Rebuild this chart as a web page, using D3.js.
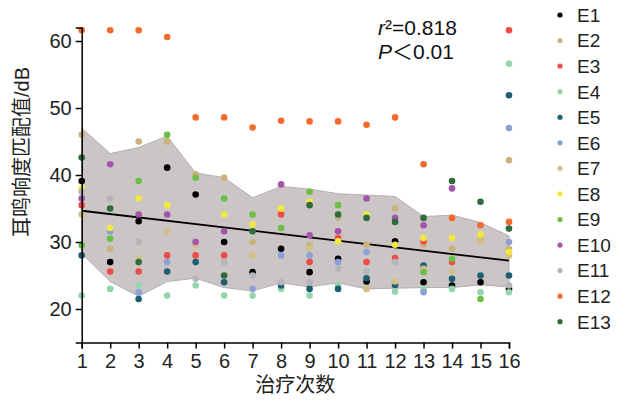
<!DOCTYPE html>
<html>
<head>
<meta charset="utf-8">
<script src="https://cdn.jsdelivr.net/npm/d3@7"></script>
<style>
  body { margin: 0; background: #fff; }
  svg { display: block; font-family: "Liberation Sans", Arial, "Noto Sans CJK SC", sans-serif; }
  .axis path, .axis line { stroke: #000; stroke-width: 1.5; }
  .axis text { font-size: 20px; fill: #222; }
</style>
</head>
<body>
<div id="chart"></div>
<script>
// sessions on the x axis
const sessions = d3.range(1, 17);
const yTicks = [20, 30, 40, 50, 60];

const seriesNames = ['E1','E2','E3','E4','E5','E6','E7','E8','E9','E10','E11','E12','E13'];
const seriesColors = ['#000000','#c9b27c','#ef4b47','#95d5ae','#1d5e74','#8c9fd6','#d3bf88',
  '#f3e83c','#6bbf45','#a653ad','#b5b5bb','#f36a2d','#2f6b3b'];

// one value per session (null = not visible, array = two readings)
const E1  = [39.1, 27.0, 33.1, 41.1, 37.1, 30.0, 25.5, 29.0, 25.5, 27.5, 24.1, 30.1, 24.0, 23.5, 24.0, 23.0];
const E2  = [46.0, 29.0, 45.0, 45.0, 40.1, 39.6, 30.0, 34.6, 29.5, 33.6, 29.6, 35.0, 29.6, 29.0, 30.6, [42.2, 29.0]];
const E3  = [35.5, 25.6, 25.6, 28.0, 28.0, 28.0, null, 34.1, 27.0, 30.6, 27.0, 27.6, 30.1, 27.0, null, 61.6];
const E4  = [22.0, 23.0, 23.5, 22.0, 23.5, 22.0, 22.0, 23.0, 22.0, 23.6, null, 22.6, 23.0, 23.0, 22.5, [56.6, 22.5]];
const E5  = [28.0, null, 21.5, 25.6, 27.0, 24.0, null, 23.5, 23.0, 23.0, 24.6, 23.6, 26.5, 24.5, 25.0, [51.9, 25.0]];
const E6  = [null, 31.6, 22.5, 27.0, null, null, 23.0, 28.0, 28.0, 27.0, 28.5, null, 22.5, null, null, [47.0, 30.0]];
const E7  = [34.1, null, 27.5, 31.6, 29.5, null, 28.0, null, 29.0, null, 23.0, 24.1, 26.0, 25.6, 30.1, 28.0];
const E8  = [38.0, 32.1, 36.5, 35.5, null, 34.1, 32.6, 35.0, 36.0, 30.1, 34.1, 29.6, 30.6, 30.6, 31.1, 28.5];
const E9  = [29.5, 30.5, 39.1, 46.0, 39.6, 36.5, 34.1, 32.1, 37.5, 35.5, null, null, 25.5, 27.5, 21.5, null];
const E10 = [36.5, 41.6, 34.1, 34.1, 30.0, 31.6, null, 38.6, 31.0, 31.6, 36.5, 33.6, 32.5, 38.0, null, null];
const E11 = [37.5, 36.5, 30.0, null, 24.5, 27.0, 25.0, 24.0, 24.0, 26.0, 25.6, 27.0, null, null, null, 23.5];
const E12 = [61.6, 61.6, 61.6, 60.6, 48.6, 48.6, 47.1, 48.1, 48.0, 48.0, 47.5, 48.6, 41.6, 33.6, 32.5, 33.0];
const E13 = [42.6, 35.0, 27.0, null, null, 25.0, 31.6, null, 35.5, 34.1, 33.6, 33.0, 33.6, 39.1, 36.0, 32.0];
const seriesValues = [E1, E2, E3, E4, E5, E6, E7, E8, E9, E10, E11, E12, E13];

// shaded band per session
const bandUpper = [47.0, 43.2, 44.1, 45.8, 40.3, 39.6, 36.6, 38.3, 37.9, 37.2, 37.0, 36.8, 33.8, 34.0, 32.9, 30.9];
const bandLower = [28.3, 24.1, 21.9, 24.1, 24.6, 23.2, 22.7, 23.9, 23.3, 23.9, 23.0, 23.1, 23.2, 23.2, 23.6, 23.3];

// fitted line
const fitIntercept = 35.16;
const fitSlope = -0.497;

const width = 628, height = 405;
const margin = { top: 27.6, right: 119, bottom: 62.5, left: 81.7 };

const svg = d3.select('#chart').append('svg')
  .attr('width', width)
  .attr('height', height);

const x = d3.scaleLinear()
  .domain([1, 16])
  .range([margin.left, width - margin.right]);

const y = d3.scaleLinear()
  .domain([15, 62])
  .range([height - margin.bottom, margin.top]);

// band
const bandData = sessions.map((s, i) => ({ s, lo: bandLower[i], hi: bandUpper[i] }));
svg.append('path')
  .datum(bandData)
  .attr('fill', '#cbc5c5')
  .attr('stroke', '#b3b0b0')
  .attr('stroke-width', 1)
  .attr('d', d3.area().x(d => x(d.s)).y0(d => y(d.lo)).y1(d => y(d.hi)));

// regression line
svg.append('line')
  .attr('x1', x(1)).attr('y1', y(fitIntercept + fitSlope * 1))
  .attr('x2', x(16)).attr('y2', y(fitIntercept + fitSlope * 16))
  .attr('stroke', '#000')
  .attr('stroke-width', 1.8);

// points
const points = [];
seriesValues.forEach((vals, si) => {
  vals.forEach((v, i) => {
    if (v == null) return;
    [].concat(v).forEach(val => points.push({ si, s: sessions[i], v: val }));
  });
});

svg.append('g').selectAll('circle')
  .data(points)
  .join('circle')
  .attr('cx', d => x(d.s))
  .attr('cy', d => y(d.v))
  .attr('r', 3.3)
  .attr('fill', d => seriesColors[d.si]);

// axes
svg.append('g')
  .attr('class', 'axis')
  .attr('transform', `translate(0,${height - margin.bottom})`)
  .call(d3.axisBottom(x).tickValues(sessions).tickFormat(d3.format('d')).tickSizeOuter(0).tickSize(6).tickPadding(5));

svg.append('g')
  .attr('class', 'axis')
  .attr('transform', `translate(${margin.left},0)`)
  .call(d3.axisLeft(y).tickValues(yTicks).tickSizeOuter(0).tickSize(6).tickPadding(4));

// axis titles
svg.append('text')
  .attr('x', (x(1) + x(16)) / 2)
  .attr('y', 392)
  .attr('text-anchor', 'middle')
  .attr('font-size', 20)
  .attr('fill', '#222')
  .text('治疗次数');

svg.append('text')
  .attr('transform', `translate(29,152) rotate(-90)`)
  .attr('text-anchor', 'middle')
  .attr('font-size', 20)
  .attr('fill', '#222')
  .text('耳鸣响度匹配值/dB');

// stats
const stats = svg.append('text')
  .attr('x', 378)
  .attr('y', 35)
  .attr('font-size', 21)
  .attr('fill', '#111');
stats.append('tspan').attr('font-style', 'italic').text('r');
stats.append('tspan').text('²=0.818');

const stats2 = svg.append('text')
  .attr('x', 378)
  .attr('y', 59)
  .attr('font-size', 21)
  .attr('fill', '#111');
stats2.append('tspan').attr('font-style', 'italic').text('P');
stats2.append('tspan').text('＜0.01');

// legend
const legend = svg.append('g')
  .selectAll('g')
  .data(seriesNames)
  .join('g')
  .attr('transform', (d, i) => `translate(560,${15 + i * 25.56})`);

legend.append('circle')
  .attr('r', 2.6)
  .attr('fill', (d, i) => seriesColors[i]);

legend.append('text')
  .attr('x', 17)
  .attr('dy', '0.36em')
  .attr('font-size', 19)
  .attr('fill', '#222')
  .text(d => d);
</script>
</body>
</html>
